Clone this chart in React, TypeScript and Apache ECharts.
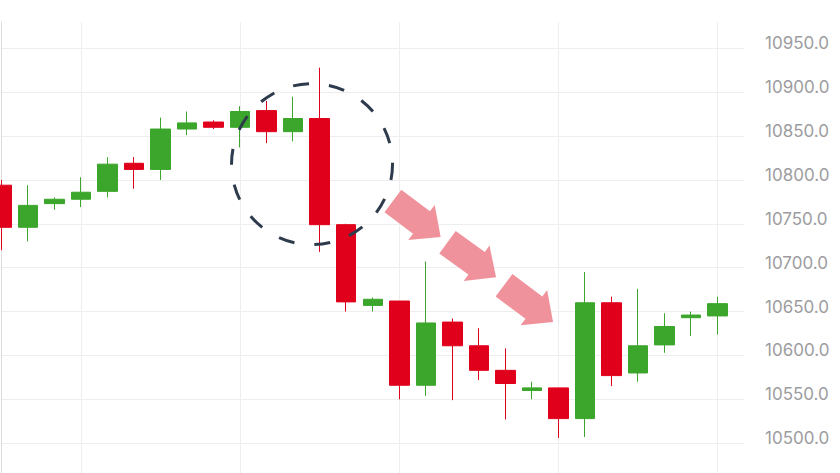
import { useEffect, useRef } from "react";
import * as echarts from "echarts";

// 交易周期（最后一个留空，用于右侧留白）
const categories = [
  "1", "2", "3", "4", "5", "6", "7", "8", "9", "10",
  "11", "12", "13", "14", "15", "16", "17", "18", "19", "20",
  "21", "22", "23", "24", "25", "26", "27", "28", "29",
];

// [open, close, lowest, highest]
const candles: number[][] = [
  [10794, 10746, 10720, 10800],
  [10746, 10771, 10730, 10794],
  [10773, 10778, 10766, 10780],
  [10778, 10786, 10769, 10803],
  [10787, 10818, 10780, 10826],
  [10819, 10812, 10790, 10826],
  [10812, 10858, 10800, 10871],
  [10858, 10865, 10851, 10878],
  [10866, 10860, 10858, 10868],
  [10860, 10878, 10837, 10884],
  [10879, 10855, 10842, 10890],
  [10855, 10870, 10844, 10895],
  [10870, 10749, 10718, 10928],
  [10749, 10661, 10650, 10750],
  [10657, 10664, 10650, 10666],
  [10662, 10566, 10550, 10662],
  [10566, 10637, 10554, 10707],
  [10638, 10611, 10549, 10642],
  [10611, 10583, 10572, 10631],
  [10583, 10568, 10527, 10608],
  [10560, 10563, 10550, 10570],
  [10563, 10528, 10506, 10563],
  [10528, 10660, 10507, 10695],
  [10660, 10577, 10565, 10667],
  [10580, 10611, 10570, 10676],
  [10612, 10633, 10603, 10648],
  [10643, 10646, 10622, 10650],
  [10645, 10659, 10624, 10667],
];

// 价格轴范围
const priceMin = 10466;
const priceMax = 10980;

// 标注：虚线圆圈中心 [周期位置, 价格]
const focusCircle: number[][] = [[11.71, 10818]];

// 标注：下跌箭头 [起点位置, 起点价格, 终点位置, 终点价格]
const trendArrows: number[][] = [
  [14.76, 10776, 16.56, 10735],
  [16.82, 10729, 18.65, 10689],
  [18.95, 10680, 20.8, 10638],
];

const UP = "#3ba62b";
const DOWN = "#e0001c";
const GRID_LINE = "#eeeeee";

function App() {
  const containerRef = useRef<HTMLDivElement>(null);

  useEffect(() => {
    if (!containerRef.current) return;
    const chart = echarts.init(containerRef.current, null, { renderer: "svg" });

    chart.setOption({
      animation: false,
      backgroundColor: "#ffffff",
      grid: {
        left: 1.5,
        right: 96,
        top: 22,
        bottom: 0,
        containLabel: false,
        outerBoundsMode: "none",
      },
      xAxis: [
        {
          type: "category",
          data: categories,
          boundaryGap: false,
          axisLine: { show: false },
          axisTick: { show: false },
          axisLabel: { show: false },
          splitLine: {
            show: true,
            interval: (index: number) => index % 6 === 3,
            lineStyle: { color: GRID_LINE, width: 1 },
          },
        },
        {
          // 隐藏的数值轴，用于放置标注
          type: "value",
          min: 0,
          max: categories.length - 1,
          show: false,
        },
      ],
      yAxis: {
        type: "value",
        position: "right",
        min: priceMin,
        max: priceMax,
        splitNumber: 10,
        axisLine: { show: true, lineStyle: { color: "#dddddd", width: 1 } },
        axisTick: { show: false },
        axisLabel: {
          margin: 21,
          color: "#9c9ca0",
          fontSize: 17,
          fontFamily: "Inter",
          verticalAlign: "bottom",
          lineHeight: 10,
          formatter: (v: number) => (v % 50 === 0 ? v.toFixed(1) : ""),
        },
        splitLine: {
          show: true,
          showMinLine: false,
          showMaxLine: false,
          lineStyle: { color: GRID_LINE, width: 1 },
        },
      },
      series: [
        {
          type: "candlestick",
          data: candles,
          barWidth: 20,
          clip: false,
          itemStyle: {
            color: UP,
            color0: DOWN,
            borderColor: UP,
            borderColor0: DOWN,
            borderWidth: 1,
          },
        },
        {
          type: "custom",
          xAxisIndex: 1,
          z: 5,
          silent: true,
          data: focusCircle,
          encode: { x: 0, y: 1 },
          renderItem: (_params: unknown, api: any) => {
            const c = api.coord([api.value(0), api.value(1)]);
            return {
              type: "circle",
              shape: { cx: c[0], cy: c[1], r: 80.5 },
              style: {
                fill: "none",
                stroke: "#2d3b4c",
                lineWidth: 3,
                lineDash: [16, 20],
              },
            };
          },
        },
        {
          type: "custom",
          xAxisIndex: 1,
          z: 6,
          silent: true,
          data: trendArrows,
          encode: { x: [0, 2], y: [1, 3] },
          renderItem: (_params: unknown, api: any) => {
            const a = api.coord([api.value(0), api.value(1)]);
            const b = api.coord([api.value(2), api.value(3)]);
            const dx = b[0] - a[0];
            const dy = b[1] - a[1];
            const len = Math.sqrt(dx * dx + dy * dy);
            const ux = dx / len;
            const uy = dy / len;
            const nx = -uy;
            const ny = ux;
            const shaft = 14;
            const head = 22;
            const headLen = 24;
            const neck = [b[0] - ux * headLen, b[1] - uy * headLen];
            const points = [
              [a[0] + nx * shaft, a[1] + ny * shaft],
              [neck[0] + nx * shaft, neck[1] + ny * shaft],
              [neck[0] + nx * head, neck[1] + ny * head],
              [b[0], b[1]],
              [neck[0] - nx * head, neck[1] - ny * head],
              [neck[0] - nx * shaft, neck[1] - ny * shaft],
              [a[0] - nx * shaft, a[1] - ny * shaft],
            ];
            return {
              type: "polygon",
              shape: { points },
              style: { fill: "#f0929b" },
            };
          },
        },
      ],
    });

    return () => {
      chart.dispose();
    };
  }, []);

  return (
    <div
      ref={containerRef}
      style={{
        position: "fixed",
        left: 0,
        top: 0,
        width: 840,
        height: 473,
        background: "#ffffff",
      }}
    ></div>
  );
}

export default App;
